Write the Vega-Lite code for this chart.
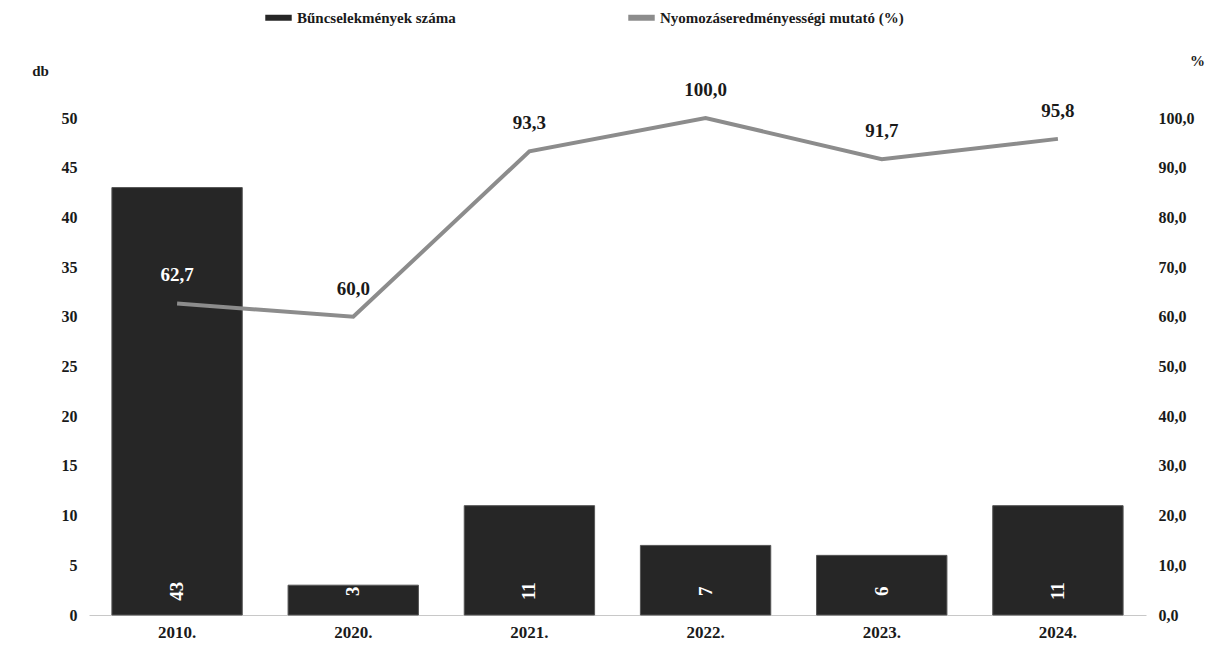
{
  "$schema": "https://vega.github.io/schema/vega-lite/v6.json",
  "width": 1057,
  "height": 497,
  "autosize": {"type": "none"},
  "padding": {"left": 89, "top": 118, "right": 67, "bottom": 34},
  "background": "white",
  "config": {
    "view": {"stroke": null},
    "font": "Liberation Serif",
    "locale": {
      "number": {"decimal": ",", "thousands": " ", "grouping": [3], "currency": ["", ""]}
    },
    "axis": {"labelFont": "Liberation Serif", "labelFontWeight": "bold", "labelColor": "#1a1a1a", "titleFont": "Liberation Serif", "titleFontWeight": "bold", "titleColor": "#1a1a1a", "grid": false, "ticks": false}
  },
  "data": {
    "values": [
      {"year": "2010.", "count": 43, "rate": 62.7},
      {"year": "2020.", "count": 3, "rate": 60.0},
      {"year": "2021.", "count": 11, "rate": 93.3},
      {"year": "2022.", "count": 7, "rate": 100.0},
      {"year": "2023.", "count": 6, "rate": 91.7},
      {"year": "2024.", "count": 11, "rate": 95.8}
    ]
  },
  "encoding": {
    "x": {
      "field": "year", "type": "nominal", "sort": null,
      "scale": {"paddingInner": 0.26, "paddingOuter": 0.13},
      "axis": {"title": null, "labelAngle": 0, "labelFontSize": 17, "labelPadding": 9, "domain": true, "domainColor": "#c8c8c8", "domainWidth": 1}
    }
  },
  "layer": [
    {
      "encoding": {
        "y": {
          "field": "count", "type": "quantitative",
          "scale": {"domain": [0, 50], "nice": false},
          "axis": {"title": "db", "titleAngle": 0, "titleX": -49, "titleY": -40, "titleFontSize": 15, "values": [0, 5, 10, 15, 20, 25, 30, 35, 40, 45, 50], "labelFontSize": 16, "labelPadding": 12, "domain": false}
        }
      },
      "layer": [
        {
          "mark": {"type": "bar", "stroke": "#555555", "strokeWidth": 1},
          "encoding": {
            "color": {
              "datum": "Bűncselekmények száma",
              "type": "nominal",
              "scale": {"domain": ["Bűncselekmények száma", "Nyomozáseredményességi mutató (%)"], "range": ["#262626", "#8c8c8c"]},
              "legend": {
                "title": null, "orient": "none", "direction": "horizontal",
                "legendX": 173, "legendY": -117,
                "symbolType": "stroke", "symbolStrokeWidth": 6, "symbolSize": 700,
                "labelFont": "Liberation Serif", "labelFontWeight": "bold", "labelFontSize": 15, "labelColor": "#1a1a1a",
                "labelLimit": 600, "columnPadding": 160, "labelOffset": 2
              }
            }
          }
        },
        {
          "mark": {"type": "text", "angle": 270, "color": "white", "fontWeight": "bold", "fontSize": 19, "font": "Liberation Serif", "align": "center", "baseline": "middle"},
          "encoding": {
            "y": {"datum": 2.4},
            "text": {"field": "count", "type": "quantitative"}
          }
        }
      ]
    },
    {
      "encoding": {
        "y": {
          "field": "rate", "type": "quantitative",
          "scale": {"domain": [0, 100], "nice": false},
          "axis": {"orient": "right", "title": "%", "titleAngle": 0, "titleX": 51, "titleY": -50, "titleFontSize": 15, "values": [0, 10, 20, 30, 40, 50, 60, 70, 80, 90, 100], "format": ".1f", "labelFontSize": 16, "labelPadding": 12, "domain": false}
        }
      },
      "layer": [
        {
          "mark": {"type": "line", "strokeWidth": 4},
          "encoding": {
            "color": {"datum": "Nyomozáseredményességi mutató (%)", "type": "nominal"}
          }
        },
        {
          "mark": {"type": "text", "dy": -28, "fontWeight": "bold", "fontSize": 19, "font": "Liberation Serif"},
          "encoding": {
            "text": {"field": "rate", "type": "quantitative", "format": ".1f"},
            "color": {"condition": {"test": "datum.year === '2010.'", "value": "white"}, "value": "#1a1a1a"}
          }
        }
      ]
    }
  ],
  "resolve": {"scale": {"y": "independent"}}
}
